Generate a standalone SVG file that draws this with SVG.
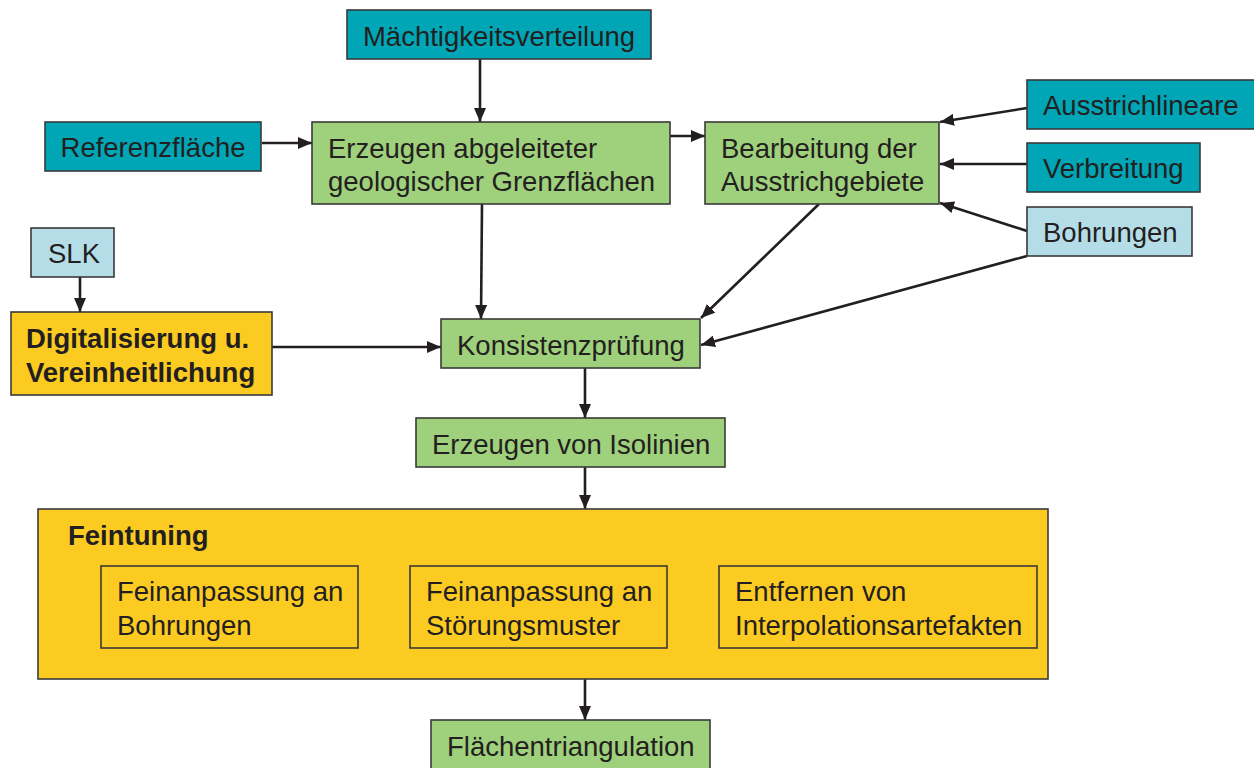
<svg xmlns="http://www.w3.org/2000/svg" width="1254" height="768" viewBox="0 0 1254 768">
  <style>
    .box { stroke: #3a3a3a; stroke-width: 1.6; }
    .teal { fill: #00a6b6; }
    .green { fill: #9fd07c; }
    .light { fill: #b5dde8; }
    .yellow { fill: #fccb22; }
    .inner { fill: none; stroke: #3a3a3a; stroke-width: 1.6; }
    text { font-family: "Liberation Sans", Arial, sans-serif; font-size: 27.5px; fill: #231f20; }
    .b { font-weight: bold; }
    .c { text-anchor: middle; }
    .edge { stroke: #231f20; stroke-width: 2.6; fill: none; marker-end: url(#arrow); }
  </style>
  <defs>
    <marker id="arrow" viewBox="0 0 14 12" refX="14" refY="6" markerWidth="14" markerHeight="12" markerUnits="userSpaceOnUse" orient="auto">
      <path d="M0,0 L14,6 L0,12 Z" fill="#231f20"/>
    </marker>
  </defs>
  <rect width="1254" height="768" fill="#ffffff"/>

  <!-- connectors -->
  <g id="connectors">
    <line class="edge" x1="480" y1="59" x2="480" y2="122"/>
    <line class="edge" x1="262" y1="143" x2="312" y2="143"/>
    <line class="edge" x1="670" y1="136" x2="705" y2="136"/>
    <line class="edge" x1="1027" y1="108" x2="940" y2="122"/>
    <line class="edge" x1="1027" y1="164" x2="940" y2="164"/>
    <line class="edge" x1="1027" y1="231" x2="940" y2="203"/>
    <line class="edge" x1="482" y1="204" x2="481" y2="319"/>
    <line class="edge" x1="819" y1="204" x2="701" y2="318"/>
    <line class="edge" x1="1027" y1="256" x2="701" y2="345"/>
    <line class="edge" x1="80" y1="277" x2="80" y2="312"/>
    <line class="edge" x1="272" y1="347" x2="441" y2="347"/>
    <line class="edge" x1="585" y1="368" x2="585" y2="418"/>
    <line class="edge" x1="585" y1="467" x2="585" y2="509"/>
    <line class="edge" x1="585" y1="679" x2="585" y2="720"/>
  </g>

  <g id="maechtigkeit">
    <rect class="box teal" x="347" y="10" width="304" height="49"/>
    <text class="c" x="499" y="46">Mächtigkeitsverteilung</text>
  </g>
  <g id="referenz">
    <rect class="box teal" x="45" y="122" width="216" height="49"/>
    <text class="c" x="153" y="157">Referenzfläche</text>
  </g>
  <g id="erzeugen">
    <rect class="box green" x="312" y="122" width="358" height="82"/>
    <text x="328" y="158">Erzeugen abgeleiteter</text>
    <text x="328" y="191">geologischer Grenzflächen</text>
  </g>
  <g id="bearbeitung">
    <rect class="box green" x="705" y="122" width="234" height="82"/>
    <text x="721" y="158">Bearbeitung der</text>
    <text x="721" y="191">Ausstrichgebiete</text>
  </g>
  <g id="ausstrichlineare">
    <rect class="box teal" x="1027" y="80" width="228" height="49"/>
    <text x="1043" y="115">Ausstrichlineare</text>
  </g>
  <g id="verbreitung">
    <rect class="box teal" x="1027" y="143" width="173" height="49"/>
    <text x="1043" y="178">Verbreitung</text>
  </g>
  <g id="bohrungen">
    <rect class="box light" x="1027" y="207" width="165" height="49"/>
    <text x="1043" y="242">Bohrungen</text>
  </g>
  <g id="slk">
    <rect class="box light" x="31" y="228" width="83" height="49"/>
    <text x="48" y="263">SLK</text>
  </g>
  <g id="digitalisierung">
    <rect class="box yellow" x="11" y="312" width="261" height="83"/>
    <text class="b" x="26" y="348">Digitalisierung u.</text>
    <text class="b" x="26" y="382">Vereinheitlichung</text>
  </g>
  <g id="konsistenz">
    <rect class="box green" x="441" y="319" width="259" height="49"/>
    <text x="457" y="355">Konsistenzprüfung</text>
  </g>
  <g id="isolinien">
    <rect class="box green" x="416" y="418" width="309" height="49"/>
    <text x="432" y="454">Erzeugen von Isolinien</text>
  </g>
  <g id="feintuning">
    <rect class="box yellow" x="38" y="509" width="1010" height="170"/>
    <text class="b" x="68" y="545">Feintuning</text>
    <rect class="inner" x="101" y="566" width="257" height="82"/>
    <text x="117" y="601">Feinanpassung an</text>
    <text x="117" y="635">Bohrungen</text>
    <rect class="inner" x="410" y="566" width="257" height="82"/>
    <text x="426" y="601">Feinanpassung an</text>
    <text x="426" y="635">Störungsmuster</text>
    <rect class="inner" x="719" y="566" width="318" height="82"/>
    <text x="735" y="601">Entfernen von</text>
    <text x="735" y="635">Interpolationsartefakten</text>
  </g>
  <g id="triangulation">
    <rect class="box green" x="431" y="720" width="279" height="52"/>
    <text x="447" y="756">Flächentriangulation</text>
  </g>
</svg>
